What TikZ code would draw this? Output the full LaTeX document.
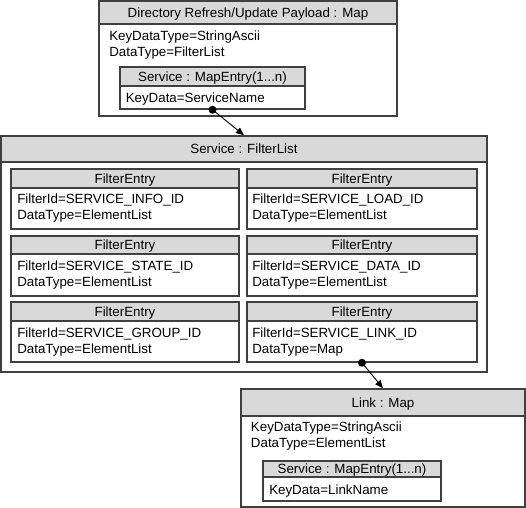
\documentclass[tikz,border=0pt]{standalone}
\usepackage{fontspec}
\setmainfont{Liberation Sans}
\usetikzlibrary{fit,arrows.meta}
\definecolor{bordc}{RGB}{64,64,64}
\definecolor{hdrc}{RGB}{217,217,217}
\begin{document}
\begin{tikzpicture}[x=0.75pt,y=-0.75pt,
  hdr/.style={draw=bordc, fill=hdrc, line width=1.1pt, inner sep=0pt},
  bdy/.style={draw=bordc, fill=white, line width=1.1pt, inner sep=0pt},
  htxt/.style={anchor=center, inner sep=0pt, text height=7.2pt, text depth=0pt, font=\fontsize{10}{12}\selectfont},
  ln/.style={anchor=base west, inner sep=0pt, font=\fontsize{10}{12}\selectfont},
  conn/.style={draw=black, line width=0.7pt, -{Triangle[length=6pt,width=5pt]}},
  dotc/.style={fill=black}]
\useasboundingbox (0,0) rectangle (526,508);
\fill[white] (0,0) rectangle (526,508);

% Top map box
\node[bdy, fit={(99,24)(397,116)}] (topb) {};
\node[hdr, fit={(99,1)(397,24)}] (toph) {};
\node[htxt] (topt) at (toph.center) {Directory Refresh/Update Payload : Map};
\node[ln] (topl1) at (109,40.5) {KeyDataType=StringAscii};
\node[ln] (topl2) at (109,56) {DataType=FilterList};
\node[bdy, fit={(120,86)(305,109)}] (svcb) {};
\node[hdr, fit={(120,67)(305,86)}] (svch) {};
\node[htxt] (svct) at (svch.center) {Service : MapEntry(1...n)};
\node[ln] (svcl1) at (125.5,102) {KeyData=ServiceName};

% FilterList box
\node[bdy, fit={(1,162)(487,372)}] (flb) {};
\node[hdr, fit={(1,136)(487,162)}] (flh) {};
\node[htxt] (flt) at (flh.center) {Service : FilterList};

% Filter entries
\node[bdy, fit={(11,188)(239,229)}] (fe1b) {};
\node[hdr, fit={(11,169)(239,188)}] (fe1h) {};
\node[htxt] (fe1t) at (fe1h.center) {FilterEntry};
\node[ln] (fe1l1) at (17,203.5) {FilterId=SERVICE\_INFO\_ID};
\node[ln] (fe1l2) at (17,219.5) {DataType=ElementList};

\node[bdy, fit={(247,188)(477,229)}] (fe2b) {};
\node[hdr, fit={(247,169)(477,188)}] (fe2h) {};
\node[htxt] (fe2t) at (fe2h.center) {FilterEntry};
\node[ln] (fe2l1) at (252,203.5) {FilterId=SERVICE\_LOAD\_ID};
\node[ln] (fe2l2) at (252,219.5) {DataType=ElementList};

\node[bdy, fit={(11,254)(239,296)}] (fe3b) {};
\node[hdr, fit={(11,236)(239,254)}] (fe3h) {};
\node[htxt] (fe3t) at (fe3h.center) {FilterEntry};
\node[ln] (fe3l1) at (17,270) {FilterId=SERVICE\_STATE\_ID};
\node[ln] (fe3l2) at (17,286) {DataType=ElementList};

\node[bdy, fit={(247,254)(477,296)}] (fe4b) {};
\node[hdr, fit={(247,236)(477,254)}] (fe4h) {};
\node[htxt] (fe4t) at (fe4h.center) {FilterEntry};
\node[ln] (fe4l1) at (252,270) {FilterId=SERVICE\_DATA\_ID};
\node[ln] (fe4l2) at (252,286) {DataType=ElementList};

\node[bdy, fit={(11,321)(239,362)}] (fe5b) {};
\node[hdr, fit={(11,302)(239,321)}] (fe5h) {};
\node[htxt] (fe5t) at (fe5h.center) {FilterEntry};
\node[ln] (fe5l1) at (17,337) {FilterId=SERVICE\_GROUP\_ID};
\node[ln] (fe5l2) at (17,353) {DataType=ElementList};

\node[bdy, fit={(247,321)(477,362)}] (fe6b) {};
\node[hdr, fit={(247,302)(477,321)}] (fe6h) {};
\node[htxt] (fe6t) at (fe6h.center) {FilterEntry};
\node[ln] (fe6l1) at (252,337) {FilterId=SERVICE\_LINK\_ID};
\node[ln] (fe6l2) at (252,353) {DataType=Map};

% Link map box
\node[bdy, fit={(241,416)(525,507)}] (lnkb) {};
\node[hdr, fit={(241,389)(525,416)}] (lnkh) {};
\node[htxt] (lnkt) at (lnkh.center) {Link : Map};
\node[ln] (lnkl1) at (250.7,431.7) {KeyDataType=StringAscii};
\node[ln] (lnkl2) at (250.7,447.3) {DataType=ElementList};
\node[bdy, fit={(263,477)(441,501)}] (lsvb) {};
\node[hdr, fit={(263,461)(441,477)}] (lsvh) {};
\node[htxt] (lsvt) at (lsvh.center) {Service : MapEntry(1...n)};
\node[ln] (lsvl1) at (269,494) {KeyData=LinkName};

% Connectors
\draw[conn] (svcb.south) -- (flh.north);
\fill[dotc] (svcb.south) circle (4);
\draw[conn] (fe6b.south) -- (lnkh.north);
\fill[dotc] (fe6b.south) circle (4);
\end{tikzpicture}
\end{document}
